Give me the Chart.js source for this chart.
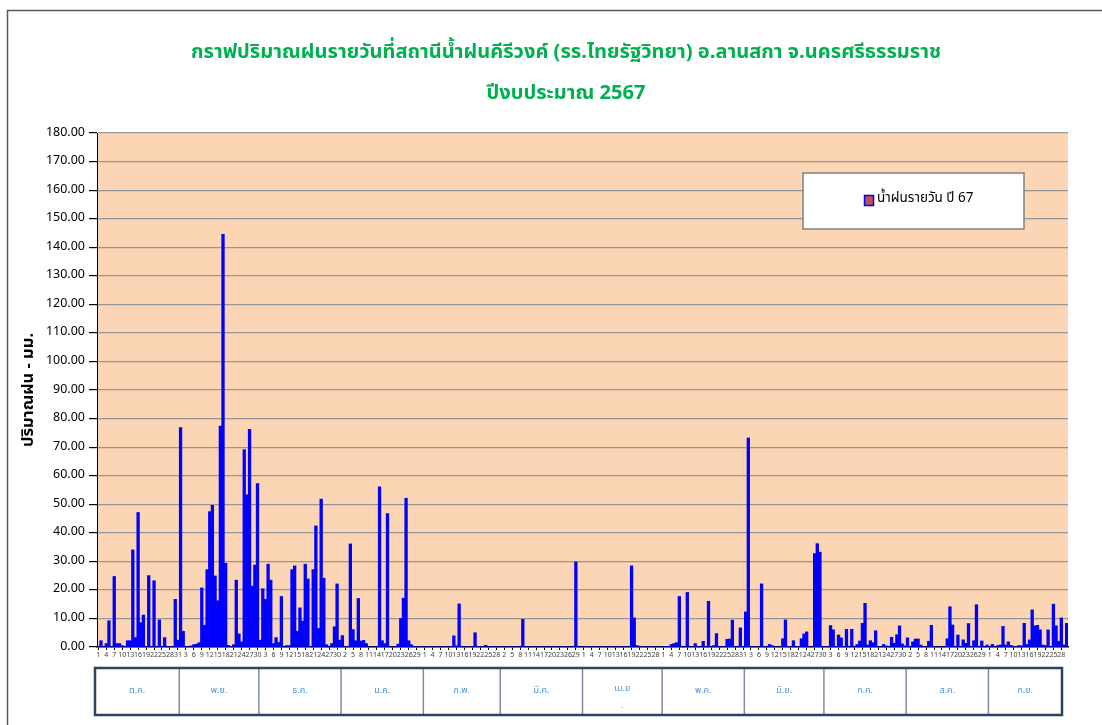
<!DOCTYPE html>
<html><head><meta charset="utf-8">
<script src="https://cdn.jsdelivr.net/npm/chart.js@4.4.1/dist/chart.umd.min.js"></script>
<style>html,body{margin:0;padding:0;background:#fff;}canvas{display:block;}</style>
</head><body>
<canvas id="c" width="1102" height="725"></canvas>
<script>
const titleLines = ['กราฟปริมาณฝนรายวันที่สถานีน้ำฝนคีรีวงค์ (รร.ไทยรัฐวิทยา) อ.ลานสกา จ.นครศรีธรรมราช', 'ปีงบประมาณ 2567'];
const yAxisTitle = 'ปริมาณฝน - มม.';
const seriesLabel = 'น้ำฝนรายวัน ปี 67';
const monthNames = ['ต.ค.', 'พ.ย.', 'ธ.ค.', 'ม.ค.', 'ก.พ.', 'มี.ค.', 'เม.ย\n.', 'พ.ค.', 'มิ.ย.', 'ก.ค.', 'ส.ค.', 'ก.ย.'];
const monthDays = [31, 30, 31, 31, 29, 31, 30, 31, 30, 31, 31, 30];
const yMin = 0, yMax = 180, yStep = 10;

const rainOct = [0, 2.2, 0, 1.2, 9.2, 0, 24.7, 1.2, 1.2, 0.5, 0, 2.2, 2.2, 34.0, 3.3, 47.1, 8.5, 11.2, 0, 25.0, 0, 23.2, 0, 9.5, 0.3, 3.3, 0, 0, 0, 16.7, 2.4];
const rainNov = [76.8, 5.5, 0, 0, 0.4, 0.8, 1.0, 1.5, 20.7, 7.6, 27.1, 47.4, 49.6, 24.9, 16.2, 77.4, 144.5, 29.3, 0.6, 0, 0.8, 23.4, 4.6, 1.8, 69.1, 53.3, 76.2, 21.3, 28.7, 57.2];
const rainDec = [2.4, 20.4, 16.7, 29.0, 23.4, 1.2, 3.3, 1.6, 17.7, 0, 0.5, 0.5, 27.1, 28.4, 5.5, 13.7, 9.1, 29.0, 23.8, 0, 27.1, 42.4, 6.5, 51.8, 24.1, 0.8, 0, 1.2, 7.1, 22.1, 2.4];
const rainJan = [4.0, 0, 0, 36.1, 6.1, 2.2, 17.0, 2.1, 2.3, 1.2, 0, 0, 0, 0, 56.1, 2.2, 1.2, 46.7, 0, 0, 0, 1.0, 10.0, 17.1, 52.1, 2.2, 0.8, 0, 0, 0, 0];
const rainFeb = [0, 0, 0, 0, 0, 0, 0, 0, 0, 0, 0, 3.9, 0.4, 15.1, 0, 0, 0, 0, 0, 5.0, 0, 0, 0, 0.6, 0, 0, 0, 0, 0];
const rainMar = [0, 0, 0, 0, 0, 0, 0, 0, 9.7, 0, 0, 0, 0, 0, 0, 0, 0, 0, 0, 0, 0, 0, 0, 0, 0, 0, 0, 0, 29.8, 0, 0];
const rainApr = [0, 0, 0, 0, 0, 0, 0, 0, 0, 0, 0, 0, 0, 0, 0, 0, 0, 0, 28.4, 10.2, 0.5, 0, 0, 0, 0, 0, 0, 0, 0, 0];
const rainMay = [0, 0, 0, 0.9, 1.2, 1.5, 17.7, 0, 0, 19.1, 0, 0, 1.2, 0, 0, 2.0, 0, 16.0, 0, 0.5, 4.7, 0, 0, 0, 2.7, 2.8, 9.4, 0, 0, 6.7, 0];
const rainJun = [12.3, 73.2, 0, 0, 0, 0, 22.1, 0, 0, 0.9, 0.5, 0, 0, 0, 2.9, 9.5, 0, 0, 2.2, 0, 0, 2.9, 4.6, 5.3, 0, 0, 32.7, 36.2, 33.2, 0];
const rainJul = [0, 0, 7.5, 6.0, 0, 4.2, 3.2, 0, 6.2, 0, 6.2, 0, 0.9, 2.1, 8.3, 15.3, 0.7, 2.2, 1.5, 5.7, 0, 0, 0.9, 0.4, 0, 3.4, 1.3, 4.3, 7.4, 1.1, 0.4];
const rainAug = [3.2, 0, 1.8, 2.8, 2.8, 0.7, 0, 0, 2.0, 7.6, 0, 0, 0, 0, 0, 2.9, 14.1, 7.7, 0, 4.2, 0, 2.5, 1.3, 8.2, 0, 2.2, 14.8, 0, 2.1, 0, 0.7];
const rainSep = [0, 0.9, 0, 0.5, 0.7, 7.2, 0.7, 1.8, 0.6, 0, 0, 0.5, 0.4, 8.3, 0.9, 2.5, 13.0, 7.4, 7.6, 6.0, 0.7, 0.5, 6.0, 0, 15.0, 7.4, 2.0, 10.2, 0.7, 8.3];

const rainByMonth = [rainOct, rainNov, rainDec, rainJan, rainFeb, rainMar, rainApr, rainMay, rainJun, rainJul, rainAug, rainSep];
const dayLabels = [];
const monthStart = [];
monthDays.forEach(n => { monthStart.push(dayLabels.length); for (let d = 1; d <= n; d++) dayLabels.push(String(d)); });
const rainValues = [].concat(...rainByMonth);

const FONT = "Tahoma, 'Noto Sans Thai', 'Noto Sans', 'DejaVu Sans', sans-serif";

const framePlugin = {
  id: 'frame',
  beforeDraw(chart) {
    const ctx = chart.ctx, a = chart.chartArea;
    ctx.save();
    ctx.fillStyle = '#fff';
    ctx.fillRect(0, 0, chart.width, chart.height);
    ctx.strokeStyle = '#5a5a5a';
    ctx.lineWidth = 1.5;
    ctx.strokeRect(7.5, 10.5, 1300, 900);
    ctx.fillStyle = '#FCD5B4';
    ctx.fillRect(a.left, a.top, a.right - a.left, a.bottom - a.top);
    ctx.restore();
  }
};

const decorPlugin = {
  id: 'decor',
  afterDraw(chart) {
    const ctx = chart.ctx, a = chart.chartArea, xs = chart.scales.x;
    ctx.save();
    // title
    ctx.fillStyle = '#00B050';
    ctx.textAlign = 'center';
    ctx.textBaseline = 'middle';
    let size = 19;
    ctx.font = 'bold ' + size + 'px ' + FONT;
    const w = ctx.measureText(titleLines[0]).width;
    size = Math.max(15, Math.min(23, size * 752 / w));
    ctx.font = 'bold ' + size.toFixed(1) + 'px ' + FONT;
    ctx.fillText(titleLines[0], 566, 54);
    ctx.fillText(titleLines[1], 566, 95);

    // legend box
    ctx.fillStyle = '#fff';
    ctx.fillRect(803, 173, 221, 56);
    ctx.strokeStyle = '#808080';
    ctx.lineWidth = 1.5;
    ctx.strokeRect(803, 173, 221, 56);
    ctx.fillStyle = '#C0504D';
    ctx.fillRect(864.5, 195.5, 9, 10);
    ctx.strokeStyle = '#0000FF';
    ctx.lineWidth = 1.5;
    ctx.strokeRect(864.5, 195.5, 9, 10);
    ctx.fillStyle = '#000';
    ctx.textAlign = 'left';
    ctx.font = '13.5px ' + FONT;
    ctx.fillText(chart.data.datasets[0].label, 877, 199);

    // month table
    const half = (xs.getPixelForValue(1) - xs.getPixelForValue(0)) / 2;
    const top = 668, bottom = 715;
    const left = a.left - 2, right = a.right - 6;
    const edges = monthStart.map((s, i) => i === 0 ? left : xs.getPixelForValue(s) - half);
    edges.push(right);
    ctx.fillStyle = '#fff';
    ctx.fillRect(left, top, right - left, bottom - top);
    ctx.strokeStyle = '#7d8ca3';
    ctx.lineWidth = 1.5;
    for (let i = 1; i < edges.length - 1; i++) {
      ctx.beginPath(); ctx.moveTo(edges[i], top); ctx.lineTo(edges[i], bottom); ctx.stroke();
    }
    ctx.strokeStyle = '#2b4463';
    ctx.lineWidth = 2.5;
    ctx.strokeRect(left, top, right - left, bottom - top);
    ctx.fillStyle = '#4a94d4';
    ctx.textAlign = 'center';
    ctx.font = '9px ' + FONT;
    monthNames.forEach((m, i) => {
      const cx = (edges[i] + edges[i + 1]) / 2;
      const parts = m.split('\n');
      if (parts.length === 1) ctx.fillText(parts[0], cx, 691);
      else { ctx.fillText(parts[0], cx, 689); ctx.fillText(parts[1], cx, 706); }
    });
    ctx.restore();
  }
};

new Chart(document.getElementById('c'), {
  type: 'bar',
  data: {
    labels: dayLabels,
    datasets: [{
      label: seriesLabel,
      data: rainValues,
      backgroundColor: '#0000FF',
      borderWidth: 0,
      barPercentage: 1.0,
      categoryPercentage: 1.0
    }]
  },
  options: {
    responsive: false,
    animation: false,
    devicePixelRatio: 1,
    layout: { padding: { top: 133, left: 17, right: 34, bottom: 62 } },
    plugins: { legend: { display: false }, title: { display: false }, tooltip: { enabled: false } },
    scales: {
      x: {
        afterFit(s) { s.height = 16; },
        grid: {
          display: true, drawOnChartArea: false, drawTicks: true, tickLength: 3, offset: false,
          color: c => (c.index % 3 === 0 ? '#000' : 'rgba(0,0,0,0)')
        },
        border: { display: true, color: '#000', width: 1.5 },
        ticks: {
          autoSkip: false, maxRotation: 0, minRotation: 0, padding: 1,
          color: '#404040', font: { size: 7, family: FONT },
          callback(v, i) { return i % 3 === 0 ? this.getLabelForValue(v) : ''; }
        }
      },
      y: {
        min: yMin, max: yMax,
        afterFit(s) { s.width = 80; },
        grid: { color: '#969696', lineWidth: 1.2, tickColor: '#000', tickLength: 8 },
        border: { display: true, color: '#000', width: 1 },
        ticks: {
          stepSize: yStep, padding: 4, color: '#000',
          font: { size: 12.5, family: FONT },
          callback: v => Number(v).toFixed(2)
        },
        title: {
          display: true, text: yAxisTitle, color: '#000',
          font: { size: 16.5, weight: 'bold', family: FONT },
          padding: { top: 3, bottom: 0 }
        }
      }
    }
  },
  plugins: [framePlugin, decorPlugin]
});
</script>
</body></html>
